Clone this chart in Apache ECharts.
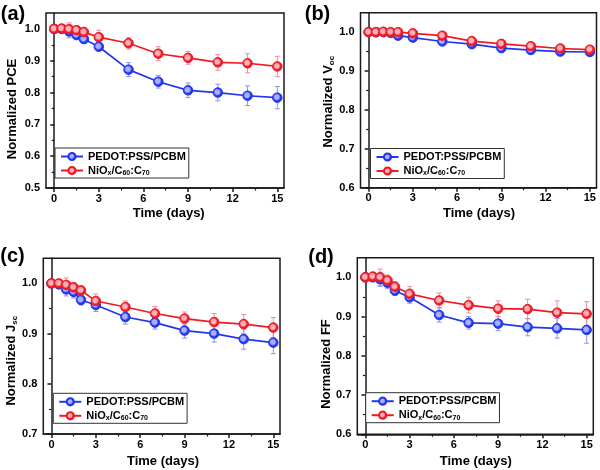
<!DOCTYPE html>
<html>
<head>
<meta charset="utf-8">
<script src="https://cdn.jsdelivr.net/npm/echarts@6/dist/echarts.min.js"></script>
<style>html,body{margin:0;padding:0;background:#fff}#c{width:600px;height:470px}</style>
</head>
<body>
<div id="c"></div>
<script>
// ---- data ----
var days = [0, 0.5, 1, 1.5, 2, 3, 5, 7, 9, 11, 13, 15];
var seriesNames = ['PEDOT:PSS/PCBM', 'NiOx/C60:C70'];

var pceBlue    = [1.000, 1.000, 0.992, 0.981, 0.968, 0.944, 0.872, 0.834, 0.807, 0.800, 0.790, 0.784];
var pceBlueErr = [0.003, 0.006, 0.020, 0.015, 0.012, 0.013, 0.022, 0.020, 0.023, 0.026, 0.031, 0.035];
var pceRed     = [1.000, 1.001, 0.999, 0.996, 0.990, 0.974, 0.955, 0.922, 0.909, 0.895, 0.892, 0.882];
var pceRedErr  = [0.003, 0.006, 0.020, 0.013, 0.015, 0.022, 0.018, 0.022, 0.020, 0.025, 0.030, 0.032];

var vocBlue    = [1.000, 1.000, 1.000, 0.998, 0.991, 0.986, 0.976, 0.969, 0.959, 0.954, 0.950, 0.949];
var vocBlueErr = [0.003, 0.004, 0.006, 0.005, 0.006, 0.008, 0.007, 0.007, 0.010, 0.008, 0.006, 0.007];
var vocRed     = [1.000, 1.000, 1.001, 1.000, 1.000, 0.997, 0.991, 0.977, 0.970, 0.964, 0.958, 0.955];
var vocRedErr  = [0.003, 0.004, 0.005, 0.005, 0.005, 0.010, 0.006, 0.006, 0.008, 0.008, 0.005, 0.008];

var jscBlue    = [1.000, 0.998, 0.988, 0.983, 0.967, 0.957, 0.933, 0.922, 0.906, 0.900, 0.889, 0.882];
var jscBlueErr = [0.006, 0.008, 0.013, 0.012, 0.010, 0.013, 0.014, 0.013, 0.015, 0.017, 0.020, 0.022];
var jscRed     = [1.000, 1.000, 0.997, 0.992, 0.986, 0.965, 0.953, 0.940, 0.930, 0.923, 0.919, 0.912];
var jscRedErr  = [0.007, 0.008, 0.014, 0.010, 0.010, 0.014, 0.012, 0.014, 0.013, 0.017, 0.019, 0.020];

var ffBlue     = [1.000, 1.000, 0.995, 0.986, 0.966, 0.949, 0.904, 0.884, 0.882, 0.873, 0.870, 0.866];
var ffBlueErr  = [0.006, 0.010, 0.018, 0.015, 0.012, 0.015, 0.018, 0.016, 0.018, 0.022, 0.025, 0.034];
var ffRed      = [1.000, 1.002, 1.000, 0.992, 0.976, 0.958, 0.941, 0.929, 0.920, 0.919, 0.910, 0.907];
var ffRedErr   = [0.006, 0.010, 0.021, 0.014, 0.013, 0.019, 0.019, 0.020, 0.020, 0.025, 0.030, 0.031];

var xTicks = [0, 3, 6, 9, 12, 15];
var xMinorTicks = [1.5, 4.5, 7.5, 10.5, 13.5];
var yTicksA = [0.5, 0.6, 0.7, 0.8, 0.9, 1.0];
var yMinorA = [0.55, 0.65, 0.75, 0.85, 0.95];
var yTicksB = [0.6, 0.7, 0.8, 0.9, 1.0];
var yMinorB = [0.65, 0.75, 0.85, 0.95];
var yTicksC = [0.7, 0.8, 0.9, 1.0];
var yMinorC = [0.75, 0.85, 0.95];
var yTicksD = [0.6, 0.7, 0.8, 0.9, 1.0];
var yMinorD = [0.65, 0.75, 0.85, 0.95];

// ---- styling / layout ----
var FONT = '"Liberation Sans", Arial, sans-serif';
var BLUE = '#2236ee', RED = '#ee1a24';
var BLUE_ERR = '#8c92f2', RED_ERR = '#f38a98';
var AX = '#1a1a1a';

var panels = [
  {grid:{left:46, top:13, width:238, height:175}, ymin:0.5, ymax:1.05, yt:yTicksA, ym:yMinorA,
   blue:pceBlue, be:pceBlueErr, red:pceRed, re:pceRedErr, legend:{left:55, top:148}},
  {grid:{left:360.5, top:12.7, width:236, height:175}, ymin:0.6, ymax:1.05, yt:yTicksB, ym:yMinorB,
   blue:vocBlue, be:vocBlueErr, red:vocRed, re:vocRedErr, legend:{left:370.5, top:148.5}},
  {grid:{left:43.3, top:258.3, width:236.7, height:175.7}, ymin:0.7, ymax:1.05, yt:yTicksC, ym:yMinorC,
   blue:jscBlue, be:jscBlueErr, red:jscRed, re:jscRedErr, legend:{left:53.3, top:393.3}},
  {grid:{left:357.3, top:257.7, width:236, height:176.6}, ymin:0.6, ymax:1.05, yt:yTicksD, ym:yMinorD,
   blue:ffBlue, be:ffBlueErr, red:ffRed, re:ffRedErr, legend:{left:365.7, top:392.7}}
];

function errRender(color){
  return function(params, api){
    var x = api.value(0), y = api.value(1), e = api.value(2);
    var t = api.coord([x, y + e]), b = api.coord([x, y - e]);
    var w = 2.5, st = {stroke: color, lineWidth: 1};
    return {type:'group', children:[
      {type:'line', shape:{x1:t[0], y1:t[1], x2:b[0], y2:b[1]}, style:st},
      {type:'line', shape:{x1:t[0]-w, y1:t[1], x2:t[0]+w, y2:t[1]}, style:st},
      {type:'line', shape:{x1:b[0]-w, y1:b[1], x2:b[0]+w, y2:b[1]}, style:st}
    ]};
  };
}
function ball(c, light){
  return {type:'radial', x:0.45, y:0.45, r:0.6, colorStops:[
    {offset:0, color:light}, {offset:0.35, color:light}, {offset:0.6, color:c}, {offset:1, color:c}]};
}

var grids = [], xAxes = [], yAxes = [], series = [], legends = [];
panels.forEach(function(p, k){
  grids.push(Object.assign({show:true, borderColor:AX, borderWidth:1.5, backgroundColor:'#fff'}, p.grid));
  var labelStyle = {color:'#000', fontFamily:FONT, fontWeight:'bold', fontSize:11};
  xAxes.push({type:'value', gridIndex:k, min:-0.55, max:15.45, position:'bottom',
    axisLine:{show:true, lineStyle:{color:AX, width:1.5}},
    axisTick:{show:true, inside:false, length:4, customValues:xTicks, lineStyle:{color:AX, width:1.5}},
    axisLabel:Object.assign({show:true, margin:5, customValues:xTicks}, labelStyle),
    splitLine:{show:false}});
  xAxes.push({type:'value', gridIndex:k, min:-0.55, max:15.45, position:'bottom',
    axisLine:{show:false},
    axisTick:{show:true, inside:false, length:2.5, customValues:xMinorTicks, lineStyle:{color:AX, width:1.2}},
    axisLabel:{show:false}, splitLine:{show:false}});
  yAxes.push({type:'value', gridIndex:k, min:p.ymin, max:p.ymax, position:'left',
    axisLine:{show:true, lineStyle:{color:AX, width:1.5}},
    axisTick:{show:true, inside:false, length:4, customValues:p.yt, lineStyle:{color:AX, width:1.5}},
    axisLabel:Object.assign({show:true, margin:6, customValues:p.yt, formatter:function(v){return v.toFixed(1);}}, labelStyle),
    splitLine:{show:false}});
  yAxes.push({type:'value', gridIndex:k, min:p.ymin, max:p.ymax, position:'left',
    axisLine:{show:false},
    axisTick:{show:true, inside:false, length:2.5, customValues:p.ym, lineStyle:{color:AX, width:1.2}},
    axisLabel:{show:false}, splitLine:{show:false}});
  var xi = 2*k, yi = 2*k;
  series.push({type:'custom', xAxisIndex:xi, yAxisIndex:yi, renderItem:errRender(BLUE_ERR), z:2,
    data: days.map(function(d,i){return [d, p.blue[i], p.be[i]];})});
  series.push({type:'custom', xAxisIndex:xi, yAxisIndex:yi, renderItem:errRender(RED_ERR), z:2,
    data: days.map(function(d,i){return [d, p.red[i], p.re[i]];})});
  series.push({type:'line', name:seriesNames[0], xAxisIndex:xi, yAxisIndex:yi, z:3,
    data: days.map(function(d,i){return [d, p.blue[i]];}),
    symbol:'circle', symbolSize:9.5, lineStyle:{color:BLUE, width:1.7},
    itemStyle:{color:ball(BLUE, '#a9b0ff'), borderColor:BLUE, borderWidth:1}});
  series.push({type:'line', name:seriesNames[1], xAxisIndex:xi, yAxisIndex:yi, z:4,
    data: days.map(function(d,i){return [d, p.red[i]];}),
    symbol:'circle', symbolSize:9.5, lineStyle:{color:RED, width:1.7},
    itemStyle:{color:ball(RED, '#ffb0b8'), borderColor:RED, borderWidth:1}});
  legends.push({orient:'vertical', left:p.legend.left, top:p.legend.top, data:seriesNames,
    borderColor:'#333', borderWidth:1, padding:[2,3,1,5], itemGap:1, itemWidth:22, itemHeight:9,
    selectedMode:false, backgroundColor:'#fff',
    formatter:function(n){ return n === seriesNames[1] ? 'NiO{s|x}/C{s|60}:C{s|70}' : n; },
    textStyle:{color:'#000', fontFamily:FONT, fontWeight:'bold', fontSize:11, lineHeight:13,
      rich:{s:{fontFamily:FONT, fontWeight:'bold', fontSize:7, padding:[5,0,0,0], lineHeight:13}}}});
});

function txt(text, x, y, size, rot, rich){
  return {type:'text', x:x, y:y, rotation:rot||0, z:10,
    style:{text:text, font:'bold '+size+'px '+FONT, fill:'#000', align:'center', verticalAlign:'middle', rich:rich}};
}
var subRich = {s:{font:'bold 8px '+FONT, fill:'#000', padding:[7,0,0,0]}};
var graphics = [
  txt('(a)', 13, 14.5, 20), txt('(b)', 317.5, 14.5, 20), txt('(c)', 12.5, 256, 20), txt('(d)', 321, 257.5, 20),
  txt('Normalized PCE', 12.7, 109, 13, Math.PI/2),
  txt('Normalized V{s|oc}', 328.3, 101.7, 13, Math.PI/2, subRich),
  txt('Normalized J{s|sc}', 11.7, 360.7, 13, Math.PI/2, subRich),
  txt('Normalized FF', 326.7, 364, 13, Math.PI/2),
  txt('Time (days)', 168.7, 213, 13), txt('Time (days)', 479, 213, 13),
  txt('Time (days)', 163, 461.7, 13), txt('Time (days)', 475.8, 461.7, 13)
];

var chart = echarts.init(document.getElementById('c'), null, {renderer:'canvas'});
chart.setOption({
  animation:false, backgroundColor:'#fff',
  grid:grids, xAxis:xAxes, yAxis:yAxes, series:series, legend:legends, graphic:graphics
});
</script>
</body>
</html>
